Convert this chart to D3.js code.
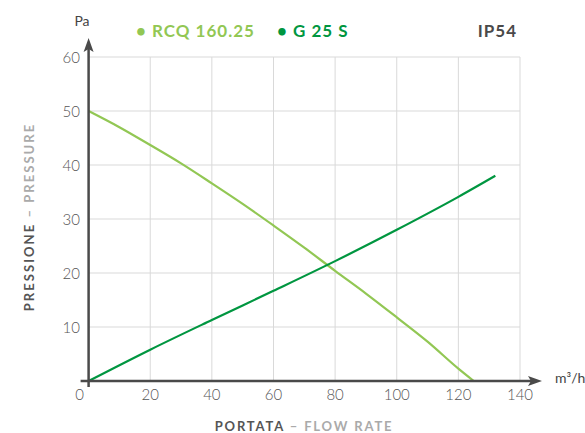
<!DOCTYPE html>
<meta charset="utf-8">
<style>
body { margin: 0; background: #fff; }
svg text { font-family: Lato, "Open Sans", sans-serif; }
.grid line { stroke: #d9d9d9; stroke-width: 1; }
.tick-label { fill: #555; font-size: 15px; font-weight: 300; }
</style>
<body>
<svg width="585" height="433"></svg>
<script src="https://d3js.org/d3.v7.min.js"></script>
<script>
var svg = d3.select("svg");

// data
var xTicks = [0, 20, 40, 60, 80, 100, 120, 140];
var yTicks = [10, 20, 30, 40, 50, 60];
var rcqFlow = [0, 10, 20, 30, 40, 50, 60, 70, 80, 90, 100, 110, 120, 125];
var rcqPressure = [50, 47, 43.7, 40.3, 36.6, 32.8, 28.8, 24.7, 20.4, 16.2, 11.8, 7.3, 2.3, 0];
var gFlow = [0, 20, 40, 60, 80, 100, 120, 132];
var gPressure = [0, 5.8, 11.3, 16.7, 22.2, 28, 34.1, 38];
var seriesNames = ["RCQ 160.25", "G 25 S"];

var colLight = "#92c754", colDark = "#009640", axisCol = "#4a4a4a";

var x = d3.scaleLinear().domain([0, 140]).range([88.6, 520]);
var y = d3.scaleLinear().domain([0, 60]).range([381, 57]);

// grid
var grid = svg.append("g").attr("class", "grid");
grid.selectAll(".v").data(xTicks.slice(1)).enter().append("line")
    .attr("x1", function(d) { return x(d); }).attr("x2", function(d) { return x(d); })
    .attr("y1", y(60)).attr("y2", y(0));
grid.selectAll(".h").data(yTicks).enter().append("line")
    .attr("x1", x(0)).attr("x2", x(140))
    .attr("y1", function(d) { return y(d); }).attr("y2", function(d) { return y(d); });

// tick labels
svg.selectAll(".xl").data(xTicks).enter().append("text")
    .attr("class", "tick-label")
    .attr("x", function(d) { return d === 0 ? x(0) - 9 : x(d); })
    .attr("y", 400)
    .attr("text-anchor", "middle")
    .text(function(d) { return d; });
svg.selectAll(".yl").data(yTicks).enter().append("text")
    .attr("class", "tick-label")
    .attr("x", 80)
    .attr("y", function(d) { return y(d) + 6; })
    .attr("text-anchor", "end")
    .text(function(d) { return d; });

// curves
var line = d3.line().curve(d3.curveMonotoneX)
    .x(function(d) { return x(d[0]); })
    .y(function(d) { return y(d[1]); });

svg.append("path")
    .datum(rcqFlow.map(function(f, i) { return [f, rcqPressure[i]]; }))
    .attr("d", line).attr("fill", "none")
    .attr("stroke", colLight).attr("stroke-width", 2.2);
svg.append("path")
    .datum(gFlow.map(function(f, i) { return [f, gPressure[i]]; }))
    .attr("d", line).attr("fill", "none")
    .attr("stroke", colDark).attr("stroke-width", 2.2);

// axes with arrows
svg.append("line").attr("x1", x(0)).attr("x2", x(0))
    .attr("y1", y(0) + 6).attr("y2", 46)
    .attr("stroke", axisCol).attr("stroke-width", 2.5);
svg.append("path").attr("d", "M" + x(0) + ",38 l-5,14 l5,-3 l5,3 z").attr("fill", axisCol);
svg.append("line").attr("x1", x(0) - 8).attr("x2", 534)
    .attr("y1", y(0)).attr("y2", y(0))
    .attr("stroke", axisCol).attr("stroke-width", 2.5);
svg.append("path").attr("d", "M542," + y(0) + " l-14,-5 l3,5 l-3,5 z").attr("fill", axisCol);

// units
svg.append("text").attr("x", 82).attr("y", 26).attr("text-anchor", "middle")
    .attr("fill", "#444").style("font-size", "14px").text("Pa");
svg.append("text").attr("x", 555).attr("y", 383)
    .attr("fill", "#444").style("font-size", "14px").text("m³/h");

// legend
var legend = svg.append("text").attr("y", 37).style("font-size", "17px").style("font-weight", "bold")
    .style("letter-spacing", "1px");
legend.append("tspan").attr("x", 136).attr("fill", colLight).text("• " + seriesNames[0]);
legend.append("tspan").attr("x", 277).attr("fill", colDark).text("• " + seriesNames[1]);
svg.append("text").attr("x", 517).attr("y", 37).attr("text-anchor", "end")
    .attr("fill", "#4a4a4a").style("font-size", "17px").style("font-weight", "bold")
    .style("letter-spacing", "1px").text("IP54");

// axis titles
var xt = svg.append("text").attr("x", 304).attr("y", 431).attr("text-anchor", "middle")
    .style("font-size", "13px").style("font-weight", "bold").style("letter-spacing", "1.85px");
xt.append("tspan").attr("fill", "#555").text("PORTATA ");
xt.append("tspan").attr("fill", "#aaa").text("– FLOW RATE");

var yt = svg.append("text").attr("transform", "translate(34,217) rotate(-90)")
    .attr("text-anchor", "middle")
    .style("font-size", "13px").style("font-weight", "bold").style("letter-spacing", "2.05px");
yt.append("tspan").attr("fill", "#555").text("PRESSIONE ");
yt.append("tspan").attr("fill", "#aaa").text("– PRESSURE");
</script>
</body>
</html>
